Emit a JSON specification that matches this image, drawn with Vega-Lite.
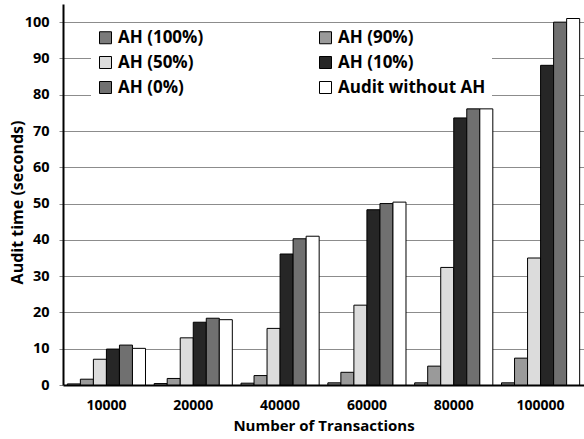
{
  "$schema": "https://vega.github.io/schema/vega-lite/v6.json",
  "width": 521,
  "height": 381,
  "autosize": "none",
  "padding": {"left": 63, "top": 4, "right": 0, "bottom": 54},
  "background": "white",
  "config": {
    "view": {"stroke": null},
    "font": "Open Sans"
  },
  "data": {
    "values": [
      {"tx": "10000", "series": "AH (100%)", "time": 0.3},
      {"tx": "10000", "series": "AH (90%)", "time": 1.6},
      {"tx": "10000", "series": "AH (50%)", "time": 7.1},
      {"tx": "10000", "series": "AH (10%)", "time": 9.9},
      {"tx": "10000", "series": "AH (0%)", "time": 11.0},
      {"tx": "10000", "series": "Audit without AH", "time": 10.1},
      {"tx": "20000", "series": "AH (100%)", "time": 0.4},
      {"tx": "20000", "series": "AH (90%)", "time": 1.8},
      {"tx": "20000", "series": "AH (50%)", "time": 13.0},
      {"tx": "20000", "series": "AH (10%)", "time": 17.3},
      {"tx": "20000", "series": "AH (0%)", "time": 18.4},
      {"tx": "20000", "series": "Audit without AH", "time": 18.0},
      {"tx": "40000", "series": "AH (100%)", "time": 0.5},
      {"tx": "40000", "series": "AH (90%)", "time": 2.6},
      {"tx": "40000", "series": "AH (50%)", "time": 15.6},
      {"tx": "40000", "series": "AH (10%)", "time": 36.1},
      {"tx": "40000", "series": "AH (0%)", "time": 40.3},
      {"tx": "40000", "series": "Audit without AH", "time": 41.0},
      {"tx": "60000", "series": "AH (100%)", "time": 0.6},
      {"tx": "60000", "series": "AH (90%)", "time": 3.5},
      {"tx": "60000", "series": "AH (50%)", "time": 22.0},
      {"tx": "60000", "series": "AH (10%)", "time": 48.3},
      {"tx": "60000", "series": "AH (0%)", "time": 50.0},
      {"tx": "60000", "series": "Audit without AH", "time": 50.4},
      {"tx": "80000", "series": "AH (100%)", "time": 0.6},
      {"tx": "80000", "series": "AH (90%)", "time": 5.2},
      {"tx": "80000", "series": "AH (50%)", "time": 32.4},
      {"tx": "80000", "series": "AH (10%)", "time": 73.6},
      {"tx": "80000", "series": "AH (0%)", "time": 76.1},
      {"tx": "80000", "series": "Audit without AH", "time": 76.1},
      {"tx": "100000", "series": "AH (100%)", "time": 0.6},
      {"tx": "100000", "series": "AH (90%)", "time": 7.4},
      {"tx": "100000", "series": "AH (50%)", "time": 35.0},
      {"tx": "100000", "series": "AH (10%)", "time": 88.1},
      {"tx": "100000", "series": "AH (0%)", "time": 100.0},
      {"tx": "100000", "series": "Audit without AH", "time": 101.0}
    ]
  },
  "mark": {"type": "bar", "stroke": "black", "strokeWidth": 1},
  "encoding": {
    "x": {
      "field": "tx",
      "type": "nominal",
      "sort": ["10000", "20000", "40000", "60000", "80000", "100000"],
      "scale": {"paddingInner": 0.1, "paddingOuter": 0.05},
      "axis": {
        "title": "Number of Transactions",
        "titleFont": "Open Sans",
        "titleFontSize": 15,
        "titleFontWeight": "bold",
        "titleColor": "black",
        "titlePadding": 6,
        "labelAngle": 0,
        "labelFont": "Open Sans",
        "labelFontSize": 14,
        "labelFontWeight": "bold",
        "labelColor": "black",
        "labelPadding": 13,
        "ticks": false,
        "domainColor": "black",
        "domainWidth": 2
      }
    },
    "xOffset": {
      "field": "series",
      "type": "nominal",
      "sort": ["AH (100%)", "AH (90%)", "AH (50%)", "AH (10%)", "AH (0%)", "Audit without AH"],
      "scale": {"paddingInner": 0, "paddingOuter": 0}
    },
    "y": {
      "field": "time",
      "type": "quantitative",
      "scale": {"domain": [0, 105], "nice": false},
      "axis": {
        "title": "Audit time (seconds)",
        "titleFont": "Open Sans",
        "titleFontSize": 16,
        "titleFontWeight": "bold",
        "titleColor": "black",
        "titleX": -46,
        "titleY": 198,
        "titleAngle": -90,
        "titleAlign": "center",
        "titleBaseline": "middle",
        "values": [0, 10, 20, 30, 40, 50, 60, 70, 80, 90, 100],
        "labelFont": "Open Sans",
        "labelFontSize": 14.5,
        "labelFontWeight": "bold",
        "labelColor": "black",
        "labelPadding": 10,
        "tickSize": 4,
        "tickColor": "#888888",
        "grid": true,
        "gridColor": "#8c8c8c",
        "gridWidth": 1,
        "domainColor": "black",
        "domainWidth": 2
      }
    },
    "fill": {
      "field": "series",
      "type": "nominal",
      "sort": ["AH (100%)", "AH (90%)", "AH (50%)", "AH (10%)", "AH (0%)", "Audit without AH"],
      "scale": {
        "domain": ["AH (100%)", "AH (90%)", "AH (50%)", "AH (10%)", "AH (0%)", "Audit without AH"],
        "range": ["#7a7a7a", "#9a9a9a", "#dcdcdc", "#262626", "#707070", "#ffffff"]
      },
      "legend": {
        "title": null,
        "orient": "none",
        "direction": "horizontal",
        "legendX": 28,
        "legendY": 19,
        "columns": 2,
        "columnPadding": 113,
        "rowPadding": 7,
        "padding": 6,
        "fillColor": "white",
        "symbolType": "square",
        "symbolSize": 144,
        "symbolStrokeColor": "black",
        "symbolStrokeWidth": 1,
        "labelFont": "Open Sans",
        "labelFontSize": 17,
        "labelFontWeight": "bold",
        "labelColor": "black",
        "labelLimit": 300
      }
    }
  }
}
